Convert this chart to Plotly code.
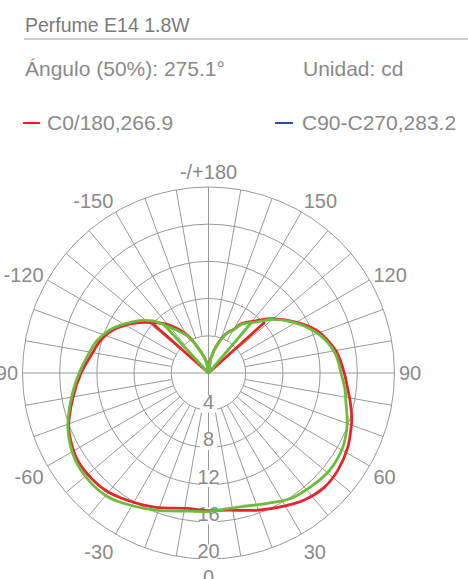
import plotly.graph_objects as go

# ---------------- data ----------------
title_text = "Perfume E14 1.8W"
angle_text = "Ángulo (50%): 275.1°"
unit_text = "Unidad: cd"
legend_names = ["C0/180,266.9", "C90-C270,283.2"]

radial_ticks = [4, 8, 12, 16, 20]
angular_tickvals = [0, 30, 60, 90, 120, 150, 180, 210, 240, 270, 300, 330]
angular_ticktext = ["0", "30", "60", "90", "120", "150", "-/+180",
                    "-150", "-120", "-90", "-60", "-30"]
spoke_angles = list(range(0, 360, 10))

# C0/180 (red)
red_theta = [-180, -170, -161, -151, -140, -132, -124, -114, -106, -101, -90,
             -79, -68, -57, -50, -41.5, -35, -22, -8.6, 0, 8, 20,
             30, 37, 45.6, 53, 62, 68, 72, 79, 83, 90, 100, 111.8, 121.6, 131,
             137, 146, 150, 155, 162, 171, 180]
red_r = [0, 1.2, 2.3, 4.6, 6.8, 8.1, 9.6, 11.3, 12.2, 12.56, 13.7,
         14.9, 16.2, 16.9, 16.95, 16.8, 16.4, 15.56, 14.73, 14.8, 14.9, 15.7,
         16.5, 17.1, 17.5, 17.4, 16.97, 16.5, 16.2, 15.5, 15.1, 14.6, 13.9, 12.45, 10.6, 8.9,
         7.7, 6.4, 5.4, 4.8, 3.4, 1.6, 0]
red_spur_theta = [-131.5, 132.1]
red_spur_r = [8.1, 8.18]

# C90-C270 (green)
green_theta = [-180, -170, -161, -151, -139, -133, -124, -113.5, -106, -101, -90,
               -79, -68, -57, -48, -40, -34, -21, -8, 0, 4, 14,
               24.5, 33.5, 42, 51, 61, 67.6, 71.3, 79, 83, 90, 98, 105.5, 112.5, 121.5, 131,
               136.6, 146, 150, 155, 162, 171, 180]
green_r = [0, 1.1, 2.24, 4.47, 6.6, 8.2, 9.85, 11.6, 12.5, 12.9, 13.9,
           15.07, 16.3, 17.1, 17.3, 17.2, 16.8, 15.8, 15.0, 14.9, 14.8, 14.8,
           15.4, 16.15, 16.45, 16.7, 16.5, 16.07, 15.75, 15.03, 14.8, 14.25, 13.85, 13.1, 12.07, 10.5, 8.77,
           7.55, 6.3, 5.3, 4.7, 3.35, 1.6, 0]
green_spur_theta = [-137.3, 139.6]
green_spur_r = [7.2, 7.1]

# ---------------- style ----------------
W, H = 468, 579
cx, cy, R = 208.5, 373, 186
GRID = "#999999"
TXT = "#8a8a8a"
RED = "#e8242a"
GREEN = "#6cbd3e"
BLUE = "#2f4a9e"
FONT = "Liberation Sans, Arial, sans-serif"

fig = go.Figure()

# spokes
sp_t, sp_r = [], []
for a in spoke_angles:
    start = 0 if a % 90 == 0 else radial_ticks[0]
    sp_t += [a, a, None]
    sp_r += [start, radial_ticks[-1], None]
fig.add_trace(go.Scatterpolar(theta=sp_t, r=sp_r, mode="lines",
                              line=dict(color=GRID, width=1),
                              hoverinfo="skip", showlegend=False))

# radial labels with white mask
lab_offset = 0.65
fig.add_trace(go.Scatterpolar(
    theta=[0] * len(radial_ticks), r=[v - lab_offset for v in radial_ticks],
    mode="markers+text", text=[str(v) for v in radial_ticks],
    textposition="middle center",
    marker=dict(symbol="square", size=17, color="white", line=dict(width=0)),
    textfont=dict(family=FONT, size=20, color=TXT),
    hoverinfo="skip", showlegend=False))


def add_curve(theta, r, sp_theta, sp_r, color):
    fig.add_trace(go.Scatterpolar(theta=theta, r=r, mode="lines",
                                  line=dict(color=color, width=2.8, shape="spline", smoothing=0.9),
                                  hoverinfo="skip", showlegend=False))
    st, sr = [], []
    for t, rr in zip(sp_theta, sp_r):
        st += [t, 180, None]
        sr += [rr, 0, None]
    fig.add_trace(go.Scatterpolar(theta=st, r=sr, mode="lines",
                                  line=dict(color=color, width=2.8),
                                  hoverinfo="skip", showlegend=False))


add_curve(red_theta, red_r, red_spur_theta, red_spur_r, RED)
add_curve(green_theta, green_r, green_spur_theta, green_spur_r, GREEN)

fig.update_layout(
    width=W, height=H,
    margin=dict(l=0, r=0, t=0, b=0),
    paper_bgcolor="white",
    showlegend=False,
    polar=dict(
        domain=dict(x=[(cx - R) / W, (cx + R) / W],
                    y=[1 - (cy + R) / H, 1 - (cy - R) / H]),
        bgcolor="white",
        radialaxis=dict(range=[0, 20], tickvals=radial_ticks, showticklabels=False,
                        ticks="", showline=False, showgrid=True,
                        gridcolor=GRID, gridwidth=1, layer="below traces"),
        angularaxis=dict(rotation=270, direction="counterclockwise",
                         tickvals=angular_tickvals, ticktext=angular_ticktext,
                         showgrid=False, showline=True, linecolor=GRID, linewidth=1,
                         ticks="", tickfont=dict(family=FONT, size=20, color=TXT),
                         layer="below traces"),
    ),
)

def px(x):
    return x / W

def py(y):
    return 1 - y / H

annots = [
    dict(text=title_text, x=px(23), y=py(25), size=19.5, color="#7a7a7a"),
    dict(text=angle_text, x=px(23), y=py(68), size=21, color=TXT),
    dict(text=unit_text, x=px(301), y=py(68), size=21, color=TXT),
    dict(text=legend_names[0], x=px(45), y=py(123), size=21, color=TXT),
    dict(text=legend_names[1], x=px(300), y=py(123), size=21, color=TXT),
]
for a in annots:
    fig.add_annotation(text=a["text"], x=a["x"], y=a["y"], xref="paper", yref="paper",
                       xanchor="left", yanchor="middle", showarrow=False,
                       font=dict(family=FONT, size=a["size"], color=a["color"]))

fig.add_shape(type="line", xref="paper", yref="paper", x0=px(24), x1=1, y0=py(39), y1=py(39),
              line=dict(color="#9a9a9a", width=1))
fig.add_shape(type="line", xref="paper", yref="paper", x0=px(23), x1=px(40), y0=py(123), y1=py(123),
              line=dict(color=RED, width=2))
fig.add_shape(type="line", xref="paper", yref="paper", x0=px(275), x1=px(293), y0=py(123), y1=py(123),
              line=dict(color=BLUE, width=2))

fig.write_html("out.html", config={"displayModeBar": False},
               post_script="document.body.style.margin='0px';")
